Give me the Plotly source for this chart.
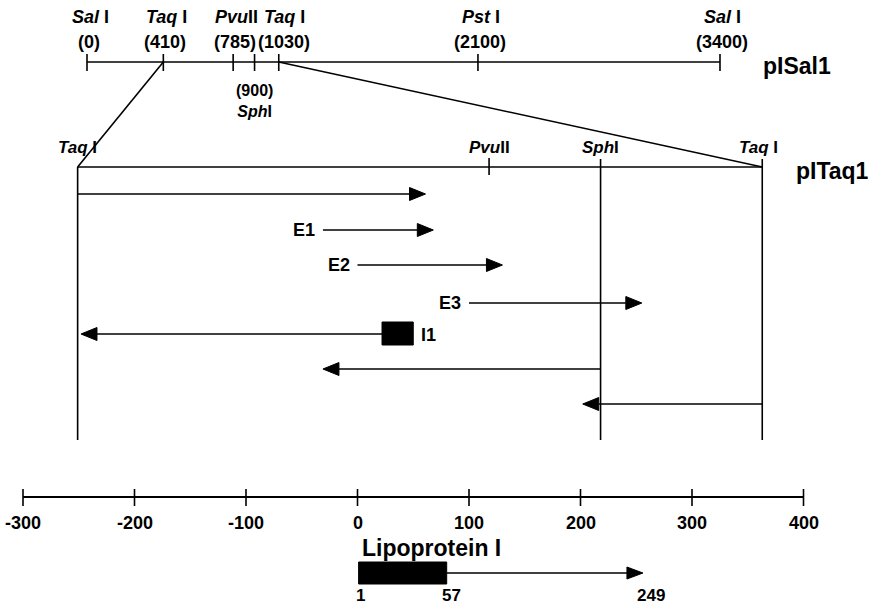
import plotly.graph_objects as go

# ---------------- data ----------------
# pISal1 restriction map (bp)
sal_names = ["<i>Sal</i> I", "<i>Taq</i> I", "<i>Pvu</i>II", "<i>Sph</i>I", "<i>Taq</i> I", "<i>Pst</i> I", "<i>Sal</i> I"]
sal_pos = [0, 410, 785, 900, 1030, 2100, 3400]
sal_below = [False, False, False, True, False, False, False]

# pITaq1 map (position on the lipoprotein I scale)
taq_names = ["<i>Taq</i> I", "<i>Pvu</i>II", "<i>Sph</i>I", "<i>Taq</i> I"]
taq_pos = [-251, 118, 218, 363]
taq_full = [True, False, True, True]   # sites whose line runs down to the fragments

# fragments / transcripts (start -> end, arrow at end)
frag_labels = ["", "E1", "E2", "E3", "I1", "", ""]
frag_start = [-251, -31, 0, 100, 22, 218, 363]
frag_end = [61, 68, 130, 255, -248, -31, 202]
i1_box = [22, 50]

# scale
ruler_ticks = [-300, -200, -100, 0, 100, 200, 300, 400]

# lipoprotein I gene
lpp_box = [1, 80]
lpp_end = 256
lpp_labels = ["1", "57", "249"]

# ---------------- layout constants ----------------
PXU = 1.115                    # pixels per scale unit
XR = [-357.5 / PXU, (870 - 357.5) / PXU]
TOP_U0 = -242.6                # scale unit of bp 0 on pISal1
TOP_K = (325.1 - TOP_U0) / 3400  # scale units per bp on pISal1

Y_SAL = 62
Y_TAQ = 167
Y_BOTTOM = 440
frag_y = [194, 230, 265, 303, 334, 369, 404]
Y_RULER = 497
Y_LPP = 573

FONT = "Liberation Sans, Arial, Helvetica, sans-serif"
LW = 1.6
shapes = []
ann = []


def line(x0, y0, x1, y1, w=LW):
    shapes.append(dict(type="line", xref="x", yref="y", x0=x0, y0=y0, x1=x1, y1=y1,
                       line=dict(color="black", width=w)))


def head(xtip, y, d, L=16, h=6.5):
    bx = xtip - d * L / PXU
    shapes.append(dict(type="path", xref="x", yref="y",
                       path=f"M{xtip},{y} L{bx},{y - h} L{bx},{y + h} Z",
                       fillcolor="black", line=dict(color="black", width=1)))
    return bx


def text(x, y, s, size=18, xanchor="center", xshift=0):
    ann.append(dict(x=x, y=y, xref="x", yref="y", text=s, showarrow=False,
                    xanchor=xanchor, yanchor="middle", xshift=xshift,
                    font=dict(family=FONT, size=size, color="black")))


def top_u(bp):
    return TOP_U0 + TOP_K * bp


# pISal1
line(top_u(sal_pos[0]), Y_SAL, top_u(sal_pos[-1]), Y_SAL)
for nm, p, below in zip(sal_names, sal_pos, sal_below):
    u = top_u(p)
    line(u, Y_SAL - 8, u, Y_SAL + 9)
    if below:
        text(u, 101, f"<b>({p})<br>{nm}</b>", size=16)
    else:
        sh = 5 if p == 1030 else 2
        text(u, 17, f"<b>{nm}</b>", xshift=sh + 1)
        text(u, 42, f"<b>({p})</b>", xshift=sh)
text(top_u(3400), 66, "<b>pISal1</b>", size=23, xanchor="left", xshift=41)

# expansion lines
line(top_u(410), Y_SAL, taq_pos[0], Y_TAQ)
line(top_u(1030), Y_SAL, taq_pos[-1], Y_TAQ)

# pITaq1
line(taq_pos[0], Y_TAQ, taq_pos[-1], Y_TAQ)
for i, (nm, p, full) in enumerate(zip(taq_names, taq_pos, taq_full)):
    if full:
        line(p, Y_TAQ - 8 if i > 0 else Y_TAQ, p, Y_BOTTOM)
    else:
        line(p, Y_TAQ - 9, p, Y_TAQ + 8)
    text(p, 147, f"<b>{nm}</b>", size=17, xshift=-4 if i == len(taq_pos) - 1 else 0)
text(taq_pos[-1], 171, "<b>pITaq1</b>", size=23, xanchor="left", xshift=32)

# fragments
for lab, s, e, y in zip(frag_labels, frag_start, frag_end, frag_y):
    d = 1 if e > s else -1
    bx = head(e, y, d)
    x_from = s
    if lab == "I1":
        x_from = i1_box[0]
        shapes.append(dict(type="rect", xref="x", yref="y", x0=i1_box[0], x1=i1_box[1],
                           y0=y - 12, y1=y + 11, fillcolor="black",
                           line=dict(color="black", width=1)))
        text(i1_box[1], y + 1, "<b>I1</b>", size=18, xanchor="left", xshift=6)
    elif lab:
        text(s, y, f"<b>{lab}</b>", size=18, xanchor="right", xshift=-6)
    line(x_from, y, bx, y)

# ruler
line(ruler_ticks[0], Y_RULER, ruler_ticks[-1], Y_RULER, w=1.8)
for t in ruler_ticks:
    line(t, Y_RULER - 8, t, Y_RULER + 9, w=1.6)
    text(t, 523, f"<b>{t}</b>", size=18)

# lipoprotein I
text((lpp_box[0] + lpp_box[1]) / 2 + 26, 548, "<b>Lipoprotein I</b>", size=23)
shapes.append(dict(type="rect", xref="x", yref="y", x0=lpp_box[0], x1=lpp_box[1],
                   y0=Y_LPP - 11, y1=Y_LPP + 11, fillcolor="black",
                   line=dict(color="black", width=1)))
bx = head(lpp_end, Y_LPP, 1, L=16, h=6)
line(lpp_box[1], Y_LPP, bx, Y_LPP, w=1.5)
text(lpp_box[0], 595, f"<b>{lpp_labels[0]}</b>", size=17, xshift=2)
text(lpp_box[1], 595, f"<b>{lpp_labels[1]}</b>", size=17, xshift=5)
text(lpp_end, 595, f"<b>{lpp_labels[2]}</b>", size=17, xshift=8)

fig = go.Figure()
fig.add_trace(go.Scatter(x=[XR[0]], y=[0], mode="markers", marker=dict(opacity=0),
                         hoverinfo="skip", showlegend=False))
fig.update_layout(
    width=870, height=604, margin=dict(l=0, r=0, t=0, b=0),
    paper_bgcolor="white", plot_bgcolor="white",
    xaxis=dict(range=XR, visible=False, fixedrange=True),
    yaxis=dict(range=[604, 0], visible=False, fixedrange=True),
    shapes=shapes, annotations=ann, showlegend=False,
)
fig.write_html("out.html", config={"displayModeBar": False},
               post_script="document.body.style.margin='0';document.body.style.overflow='hidden';")
